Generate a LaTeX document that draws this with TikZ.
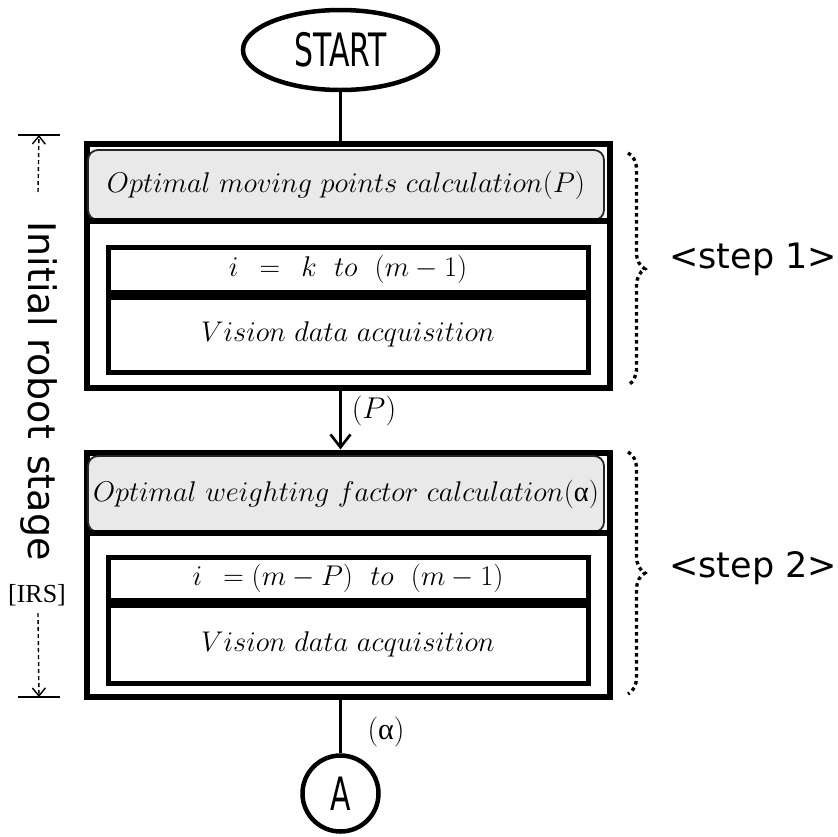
\RequirePackage{fix-cm}
\documentclass[tikz,border=0pt]{standalone}
\usepackage{fontspec}
\newfontfamily\labelsans{DejaVu Sans}
\newfontfamily\narrowsans[FakeStretch=0.65]{DejaVu Sans}
\newfontfamily\serifnote{Liberation Serif}
\usetikzlibrary{shapes.geometric,decorations.pathreplacing,arrows.meta,calc}

\begin{document}
\begin{tikzpicture}[x=1pt,y=-1pt,
  outerbox/.style={draw,line width=6pt,minimum width=523,inner sep=0pt},
  headbox/.style={draw=black!85,line width=1.8pt,fill=gray!17,rounded corners=10pt,
    minimum width=516,inner sep=0pt},
  cell/.style={draw,line width=5pt,minimum width=480,inner sep=0pt},
  mathtext/.style={font=\fontsize{28.5}{32}\selectfont},
  conn/.style={line width=2.6pt},
  dotbrace/.style={decorate,decoration={brace,amplitude=17pt},
    line width=3.3pt,dash pattern=on 3.5pt off 3.5pt},
  bar/.style={line width=1.4pt},
  dasharrow/.style={line width=1.4pt,dash pattern=on 4pt off 3pt,
    -{Straight Barb[length=8pt,width=13pt,line width=1.4pt]}},
  steplabel/.style={font=\labelsans\fontsize{35}{40}\selectfont,inner sep=0pt,anchor=base west}]

\useasboundingbox (0,0) rectangle (838,836);

% terminals
\node[draw,ellipse,line width=4.5pt,minimum width=195,minimum height=80,inner sep=0pt,
  font=\narrowsans\fontsize{46}{50}\selectfont] (start) at (340.5,50) {START};
\node[draw,circle,line width=4.5pt,minimum size=76,inner sep=0pt,
  font=\narrowsans\fontsize{46}{50}\selectfont] (conA) at (340.5,793.5) {A};

% step 1 block
\node[outerbox,minimum height=244] (box1) at (348.5,265.5) {};
\node[headbox,minimum height=70,mathtext] (head1) at (346,185)
  {$Optimal\ moving\ points\ calculation(P)$};
\draw[line width=5.5pt] (box1.west |- head1.south) -- (box1.east |- head1.south);
\node[cell,minimum height=45,mathtext] (range1) at (348,269.5) {$i\ \,=\ \,k\ \ to\ \ (m-1)$};
\node[cell,minimum height=75,anchor=north,mathtext] (task1) at (range1.south) {$Vision\ data\ acquisition$};

% step 2 block
\node[outerbox,minimum height=244] (box2) at (348.5,574.5) {};
\node[headbox,minimum height=76,mathtext] (head2) at (346,494)
  {$Optimal\ weighting\ factor\ calculation$({\serifnote α})};
\draw[line width=5.5pt] (box2.west |- head2.south) -- (box2.east |- head2.south);
\node[cell,minimum height=43,mathtext] (range2) at (348,578.5) {$i\ \,=(m-P)\ \ to\ \ (m-1)$};
\node[cell,minimum height=78,anchor=north,mathtext] (task2) at (range2.south) {$Vision\ data\ acquisition$};

% connectors
\draw[conn] (start.south) -- (start.south |- box1.north);
\draw[conn,-{Straight Barb[length=13pt,width=20pt,line width=2.6pt]}]
  (start.south |- box1.south) -- (start.south |- box2.north);
\draw[conn] (start.south |- box2.south) -- (conA.north);
\node[font=\fontsize{30}{34}\selectfont] (lblP) at (374,411) {$(P)$};
\node[font=\fontsize{30}{34}\selectfont] (lblA) at (386,732) {({\serifnote α})};

% step braces
\coordinate (b1t) at (628,153);
\coordinate (b1b) at (628,385);
\coordinate (b2t) at (628,452);
\coordinate (b2b) at (628,694);
\draw[dotbrace] (b1t) -- (b1b);
\draw[dotbrace] (b2t) -- (b2b);
\node[steplabel] (step1) at (669,268) {<step 1>};
\node[steplabel] (step2) at (669,577) {<step 2>};

% stage span on the left
\coordinate (topL) at (18,135);
\coordinate (topR) at (60,135);
\coordinate (botL) at (18,697);
\coordinate (botR) at (60,697);
\draw[bar] (topL) -- (topR);
\draw[bar] (botL) -- (botR);
\node[rotate=-90,font=\labelsans\fontsize{38}{42}\selectfont,inner sep=0pt] (stage) at (39,391)
  {Initial robot\hspace{16pt}stage};
\node[font=\serifnote\fontsize{26}{28}\selectfont,inner sep=0pt] (irs) at (37,595) {[IRS]};
\coordinate (upS) at (38,192);
\coordinate (dnS) at (38,613);
\draw[dasharrow] (upS) -- ($(topL)!0.5!(topR)$);
\draw[dasharrow] (dnS) -- ($(botL)!0.5!(botR)$);
\end{tikzpicture}
\end{document}
